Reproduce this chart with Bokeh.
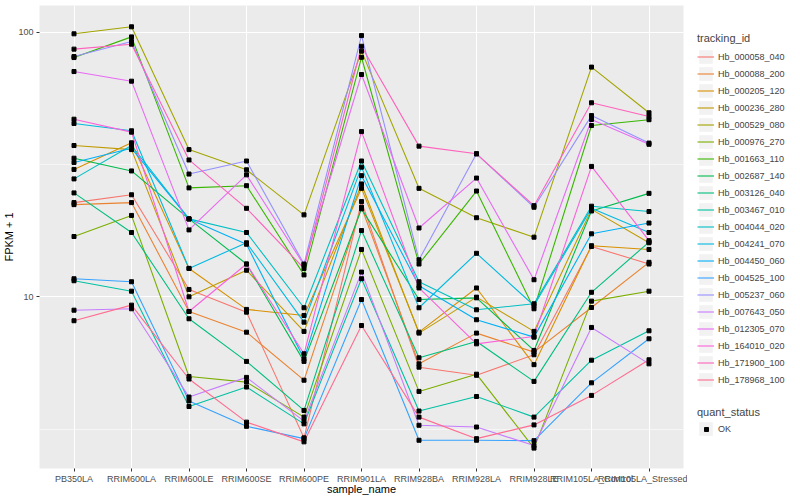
from bokeh.plotting import figure
from bokeh.layouts import row
from bokeh.models import Range1d, FixedTicker, Legend, LegendItem, PrintfTickFormatter
from bokeh.embed import file_html
from bokeh.resources import INLINE

samples = ["PB350LA", "RRIM600LA", "RRIM600LE", "RRIM600SE", "RRIM600PE", "RRIM901LA",
           "RRIM928BA", "RRIM928LA", "RRIM928LE", "RRIM105LA_Control", "RRIM105LA_Stressed"]

tracking_ids = ["Hb_000058_040", "Hb_000088_200", "Hb_000205_120", "Hb_000236_280", "Hb_000529_080",
                "Hb_000976_270", "Hb_001663_110", "Hb_002687_140", "Hb_003126_040", "Hb_003467_010",
                "Hb_004044_020", "Hb_004241_070", "Hb_004450_060", "Hb_004525_100", "Hb_005237_060",
                "Hb_007643_050", "Hb_012305_070", "Hb_164010_020", "Hb_171900_100", "Hb_178968_100"]

colors = ["#F8766D", "#EA8331", "#D89000", "#C09B00", "#A3A500", "#7CAE00", "#39B600", "#00BB4E",
          "#00BF7D", "#00C1A3", "#00BFC4", "#00BAE0", "#00B0F6", "#35A2FF", "#9590FF", "#C77CFF",
          "#E76BF3", "#FA62DB", "#FF62BC", "#FF6C90"]

quant_status = ["OK"]

# FPKM + 1 per sample (order of `samples`)
Hb_000058_040 = [22.7, 24.3, 10.66, 8.75, 2.93, 22.9, 5.42, 5.05, 6.04, 15.5, 13.3]
Hb_000088_200 = [22.3, 22.7, 8.80, 7.35, 4.84, 21.8, 5.58, 7.29, 6.18, 9.11, 13.5]
Hb_000205_120 = [30.3, 38.2, 12.8, 8.96, 8.50, 25.7, 7.35, 10.8, 5.54, 15.6, 15.1]
Hb_000236_280 = [37.3, 36.0, 10.0, 12.6, 7.40, 26.7, 7.29, 9.97, 7.40, 21.4, 16.0]
Hb_000529_080 = [98.6, 104.8, 36.0, 30.2, 20.4, 84.8, 25.7, 19.9, 16.8, 73.8, 49.6]
Hb_000976_270 = [16.9, 20.3, 5.00, 4.76, 3.51, 15.1, 4.39, 5.10, 2.68, 9.63, 10.5]
Hb_001663_110 = [80.2, 96.0, 25.8, 26.3, 12.1, 80.4, 13.3, 25.1, 9.01, 44.4, 46.7]
Hb_002687_140 = [33.4, 29.9, 19.7, 13.3, 5.70, 21.5, 9.77, 9.91, 6.27, 21.1, 24.6]
Hb_003126_040 = [24.7, 17.5, 8.26, 5.70, 3.72, 17.8, 5.88, 6.78, 4.79, 10.4, 16.1]
Hb_003467_010 = [11.5, 10.5, 3.85, 4.56, 3.31, 11.7, 3.70, 4.20, 3.51, 5.76, 7.44]
Hb_004044_020 = [27.9, 37.3, 19.7, 17.5, 9.09, 32.6, 11.4, 8.93, 9.41, 22.0, 21.0]
Hb_004241_070 = [45.2, 42.4, 12.8, 16.0, 8.02, 30.9, 9.09, 14.6, 9.27, 21.6, 17.5]
Hb_004450_060 = [32.2, 36.4, 19.7, 15.8, 5.83, 28.7, 11.0, 8.19, 7.04, 17.3, 19.0]
Hb_004525_100 = [11.7, 11.4, 4.04, 3.24, 2.91, 9.77, 2.87, 2.87, 2.86, 4.73, 6.94]
Hb_005237_060 = [80.9, 92.2, 29.1, 32.6, 13.3, 97.1, 13.8, 34.7, 21.8, 48.4, 38.1]
Hb_007643_050 = [8.90, 9.01, 4.18, 4.96, 3.39, 12.4, 3.27, 3.22, 2.74, 7.66, 5.58]
Hb_012305_070 = [71.0, 65.3, 17.9, 28.9, 13.2, 69.2, 18.2, 28.1, 11.6, 46.8, 37.7]
Hb_164010_020 = [46.9, 41.9, 8.80, 13.3, 6.09, 42.1, 10.8, 6.64, 7.08, 31.1, 16.3]
Hb_171900_100 = [86.3, 90.1, 32.9, 21.6, 12.8, 88.5, 37.1, 34.7, 22.1, 54.1, 48.0]
Hb_178968_100 = [8.12, 9.30, 4.89, 3.36, 2.83, 7.79, 3.51, 2.91, 3.28, 4.24, 5.78]

series = [Hb_000058_040, Hb_000088_200, Hb_000205_120, Hb_000236_280, Hb_000529_080,
          Hb_000976_270, Hb_001663_110, Hb_002687_140, Hb_003126_040, Hb_003467_010,
          Hb_004044_020, Hb_004241_070, Hb_004450_060, Hb_004525_100, Hb_005237_060,
          Hb_007643_050, Hb_012305_070, Hb_164010_020, Hb_171900_100, Hb_178968_100]

y_ticks = [10, 100]
y_minor = [10 ** 0.5, 10 ** 1.5]

FONT = "Liberation Sans"
xs = list(range(len(samples)))

p = figure(frame_width=644, frame_height=463, output_backend="svg", toolbar_location=None,
           y_axis_type="log",
           x_range=Range1d(-0.6, len(samples) - 1 + 0.6),
           y_range=Range1d(10 ** 0.3511, 10 ** 2.1009),
           min_border_left=32, min_border_right=4, min_border_top=5, min_border_bottom=0)
p.background_fill_color = "#EBEBEB"
p.border_fill_color = "white"
p.outline_line_color = None

line_renderers = []
for vals, col in zip(series, colors):
    r = p.line(xs, vals, line_color=col, line_width=1.1)
    line_renderers.append(r)

pt_x, pt_y = [], []
for vals in series:
    pt_x.extend(xs)
    pt_y.extend(vals)
pts = p.scatter(pt_x, pt_y, marker="square", size=4, fill_color="black", line_color="black")

# axes
p.xaxis.ticker = FixedTicker(ticks=xs, minor_ticks=[])
p.xaxis.major_label_overrides = {i: s for i, s in enumerate(samples)}
p.yaxis.ticker = FixedTicker(ticks=y_ticks, minor_ticks=y_minor)
p.yaxis.formatter = PrintfTickFormatter(format="%d")
p.yaxis.major_label_overrides = {t: str(t) for t in y_ticks}
for ax in (p.xaxis[0], p.yaxis[0]):
    ax.axis_line_color = None
    ax.major_tick_line_color = "#333333"
    ax.major_tick_out = 3
    ax.major_tick_in = 0
    ax.minor_tick_line_color = None
    ax.major_label_text_font = FONT
    ax.major_label_text_font_size = "9px"
    ax.major_label_text_color = "#4D4D4D"
    ax.major_label_standoff = 2
    ax.axis_label_text_font = FONT
    ax.axis_label_text_font_size = "11px"
    ax.axis_label_text_font_style = "normal"
    ax.axis_label_text_color = "black"
    ax.axis_label_standoff = 0
p.xaxis.axis_label_standoff = -4
p.xaxis.axis_label = "sample_name"
p.yaxis.axis_label = "FPKM + 1"

p.xgrid.grid_line_color = "white"
p.xgrid.grid_line_width = 1.1
p.ygrid.grid_line_color = "white"
p.ygrid.grid_line_width = 1.1
p.ygrid.minor_grid_line_color = "white"
p.ygrid.minor_grid_line_width = 0.55

# legend panel: a separate figure (no axes) whose own copies of the series are kept out of view;
# it only serves to hold the two legends outside the plot frame.
LH = 484
lg = figure(width=100, height=LH, output_backend="svg", toolbar_location=None,
            x_axis_location=None, y_axis_location=None,
            x_range=Range1d(-20, -19), y_range=Range1d(-20, -19),
            min_border_left=0, min_border_right=0, min_border_top=0, min_border_bottom=0)
lg.grid.visible = False
lg.outline_line_color = None
lg.background_fill_color = "white"
lg.border_fill_color = "white"

key_lines = [lg.line(xs, vals, line_color=col, line_width=1.1) for vals, col in zip(series, colors)]
key_pt = lg.scatter(pt_x, pt_y, marker="square", size=4, fill_color="black", line_color="black")
# grey legend-key background (ggplot style), drawn only inside the legend
key_bg = lg.rect(pt_x, pt_y, width=1, height=1, fill_color="#F2F2F2", line_color=None)

common = dict(padding=0, margin=0, spacing=0,
              label_text_font=FONT, label_text_font_size="9px",
              title_text_font=FONT, title_text_font_size="11px", title_text_font_style="normal",
              background_fill_alpha=0, border_line_color=None)

leg1 = Legend(items=[LegendItem(label=t, renderers=[key_bg, r]) for t, r in zip(tracking_ids, key_lines)],
              location=(10, 67), title="tracking_id", title_standoff=4,
              glyph_height=17, glyph_width=17, label_height=17, label_standoff=4, **common)
lg.add_layout(leg1)

leg2 = Legend(items=[LegendItem(label=s, renderers=[key_bg]) for s in quant_status],
              location=(10, 18), title="quant_status", title_standoff=2,
              glyph_height=17, glyph_width=17, label_height=17, label_standoff=4, **common)
lg.add_layout(leg2)

leg3 = Legend(items=[LegendItem(label=" ", renderers=[key_pt])],
              location=(14, 21),
              glyph_height=10, glyph_width=10, label_height=10, label_standoff=0, **common)
lg.add_layout(leg3)

layout = row(p, lg)
open("out.html", "w").write(file_html(layout, INLINE))
